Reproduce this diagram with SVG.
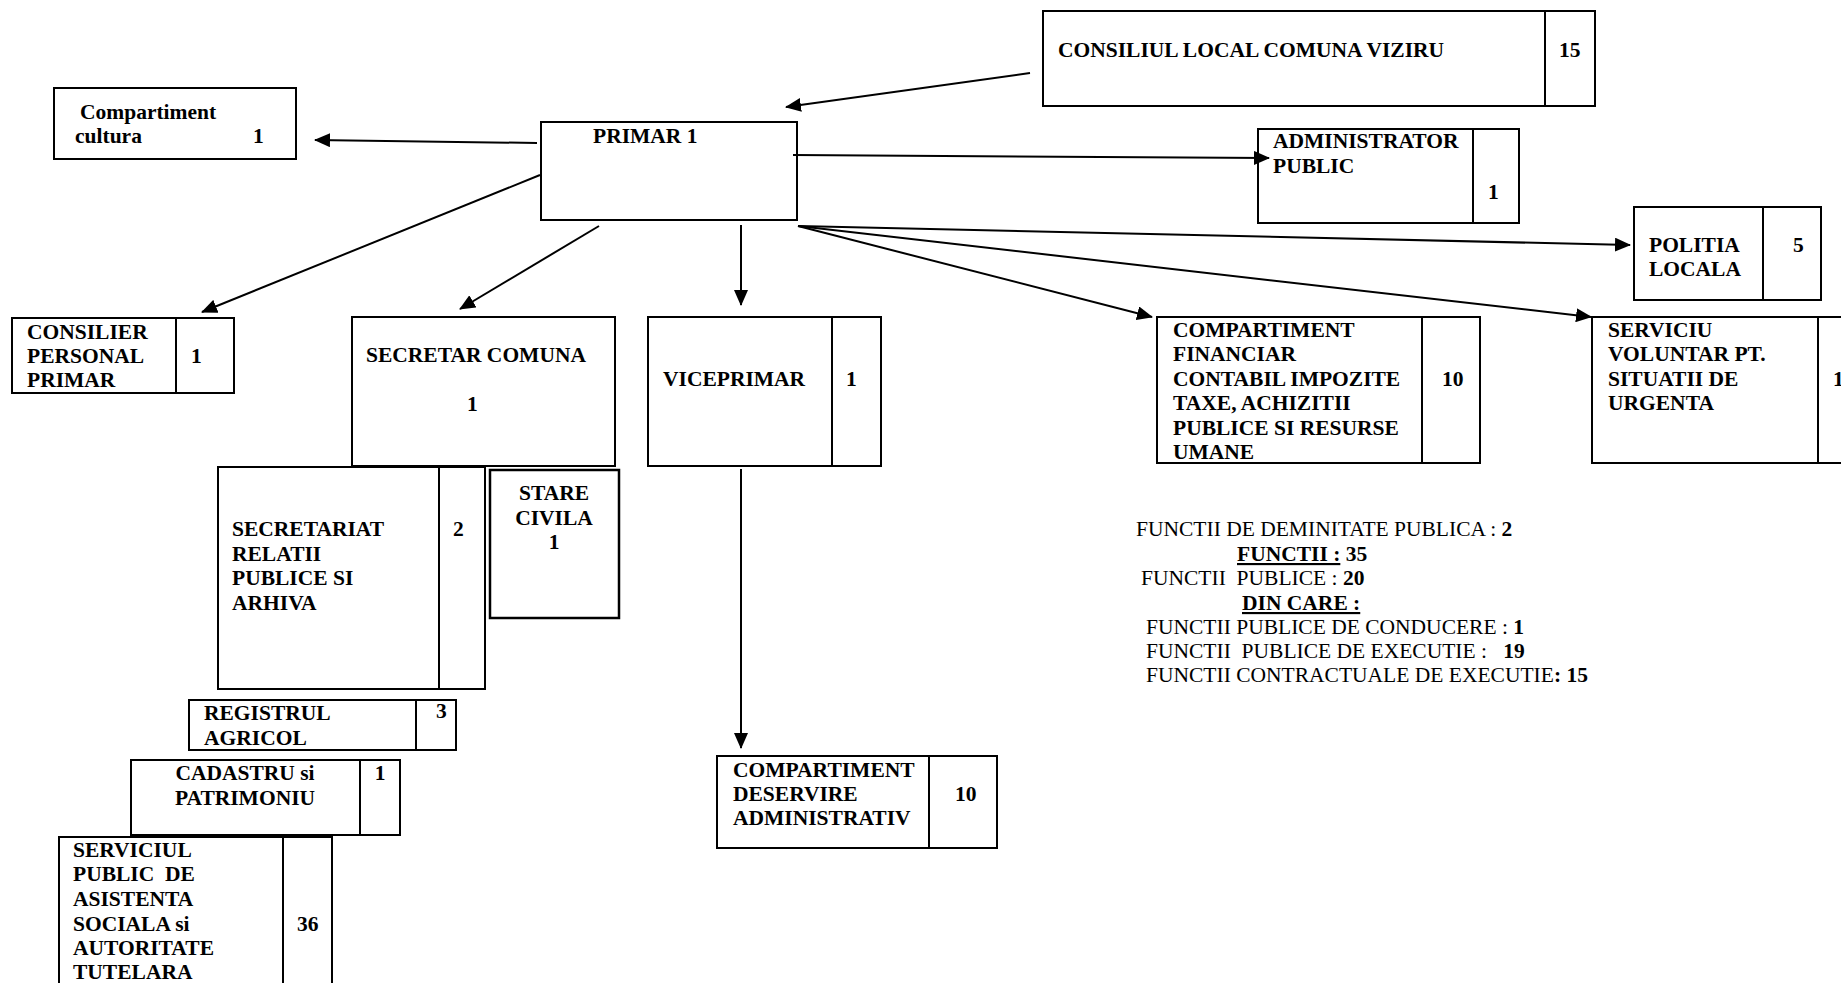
<svg xmlns="http://www.w3.org/2000/svg" width="1841" height="983" viewBox="0 0 1841 983">
<style>
rect{fill:#fff;stroke:#000;stroke-width:2}
line.d{stroke:#000;stroke-width:2}
text{font-family:"Liberation Serif","Times New Roman",serif;font-size:21.5px;font-weight:bold;fill:#000}
text.r{font-weight:normal}
.c{text-anchor:middle}
.b{font-weight:bold}
.u{text-decoration:underline}
.con line{stroke:#000;stroke-width:2;marker-end:url(#ah)}
</style>
<defs>
<marker id="ah" markerUnits="userSpaceOnUse" markerWidth="16" markerHeight="14" refX="15" refY="7" orient="auto">
<path d="M0,0 L16,7 L0,14 z" fill="#000"/>
</marker>
</defs>
<rect x="0" y="0" width="1841" height="983" style="stroke:none"/>

<g id="consiliul">
<rect x="1043" y="11" width="552" height="95"/>
<line class="d" x1="1545" y1="11" x2="1545" y2="106"/>
<text x="1058" y="57">CONSILIUL LOCAL COMUNA VIZIRU</text>
<text x="1559" y="57">15</text>
</g>

<g id="compartiment-cultura">
<rect x="54" y="88" width="242" height="71"/>
<text x="80" y="119">Compartiment</text>
<text x="75" y="143">cultura</text>
<text x="253" y="143">1</text>
</g>

<g id="primar">
<rect x="541" y="122" width="256" height="98"/>
<text x="593" y="143">PRIMAR 1</text>
</g>

<g id="administrator">
<rect x="1258" y="129" width="261" height="94"/>
<line class="d" x1="1473" y1="129" x2="1473" y2="223"/>
<text x="1273" y="148">ADMINISTRATOR</text>
<text x="1273" y="173">PUBLIC</text>
<text x="1488" y="199">1</text>
</g>

<g id="politia">
<rect x="1634" y="207" width="187" height="93"/>
<line class="d" x1="1763" y1="207" x2="1763" y2="300"/>
<text x="1649" y="252">POLITIA</text>
<text x="1649" y="276">LOCALA</text>
<text x="1793" y="252">5</text>
</g>

<g id="consilier">
<rect x="12" y="318" width="222" height="75"/>
<line class="d" x1="176" y1="318" x2="176" y2="393"/>
<text x="27" y="339">CONSILIER</text>
<text x="27" y="363">PERSONAL</text>
<text x="27" y="387">PRIMAR</text>
<text x="191" y="363">1</text>
</g>

<g id="secretar">
<rect x="352" y="317" width="263" height="149"/>
<text x="366" y="362">SECRETAR COMUNA</text>
<text x="467" y="411">1</text>
</g>

<g id="viceprimar">
<rect x="648" y="317" width="233" height="149"/>
<line class="d" x1="832" y1="317" x2="832" y2="466"/>
<text x="663" y="386">VICEPRIMAR</text>
<text x="846" y="386">1</text>
</g>

<g id="compartiment-financiar">
<rect x="1157" y="317" width="323" height="146"/>
<line class="d" x1="1422" y1="317" x2="1422" y2="463"/>
<text x="1173" y="337">COMPARTIMENT</text>
<text x="1173" y="361">FINANCIAR</text>
<text x="1173" y="386">CONTABIL IMPOZITE</text>
<text x="1173" y="410">TAXE, ACHIZITII</text>
<text x="1173" y="435">PUBLICE SI RESURSE</text>
<text x="1173" y="459">UMANE</text>
<text x="1442" y="386">10</text>
</g>

<g id="serviciu-voluntar">
<rect x="1592" y="317" width="270" height="146"/>
<line class="d" x1="1818" y1="317" x2="1818" y2="463"/>
<text x="1608" y="337">SERVICIU</text>
<text x="1608" y="361">VOLUNTAR PT.</text>
<text x="1608" y="386">SITUATII DE</text>
<text x="1608" y="410">URGENTA</text>
<text x="1833" y="386">1</text>
</g>

<g id="secretariat">
<rect x="218" y="467" width="267" height="222"/>
<line class="d" x1="439" y1="467" x2="439" y2="689"/>
<text x="232" y="536">SECRETARIAT</text>
<text x="232" y="561">RELATII</text>
<text x="232" y="585">PUBLICE SI</text>
<text x="232" y="610">ARHIVA</text>
<text x="453" y="536">2</text>
</g>

<g id="stare-civila">
<rect x="490" y="470" width="129" height="148" style="stroke-width:2.5"/>
<text class="c" x="554" y="500">STARE</text>
<text class="c" x="554" y="525">CIVILA</text>
<text class="c" x="554" y="549">1</text>
</g>

<g id="registrul">
<rect x="189" y="700" width="267" height="50"/>
<line class="d" x1="416" y1="700" x2="416" y2="750"/>
<text x="204" y="720">REGISTRUL</text>
<text x="204" y="745">AGRICOL</text>
<text x="436" y="718">3</text>
</g>

<g id="cadastru">
<rect x="131" y="760" width="269" height="75"/>
<line class="d" x1="360" y1="760" x2="360" y2="835"/>
<text class="c" x="245" y="780">CADASTRU si</text>
<text class="c" x="245" y="805">PATRIMONIU</text>
<text class="c" x="380" y="780">1</text>
</g>

<g id="serviciul-public">
<rect x="59" y="837" width="273" height="170"/>
<line class="d" x1="283" y1="837" x2="283" y2="1007"/>
<text x="73" y="857">SERVICIUL</text>
<text x="73" y="881" xml:space="preserve">PUBLIC  DE</text>
<text x="73" y="906">ASISTENTA</text>
<text x="73" y="931">SOCIALA si</text>
<text x="73" y="955">AUTORITATE</text>
<text x="73" y="979">TUTELARA</text>
<text x="297" y="931">36</text>
</g>

<g id="deservire">
<rect x="717" y="756" width="280" height="92"/>
<line class="d" x1="929" y1="756" x2="929" y2="848"/>
<text x="733" y="777">COMPARTIMENT</text>
<text x="733" y="801">DESERVIRE</text>
<text x="733" y="825">ADMINISTRATIV</text>
<text x="955" y="801">10</text>
</g>

<g id="legend">
<text class="r" x="1136" y="536">FUNCTII DE DEMINITATE PUBLICA : <tspan class="b">2</tspan></text>
<text x="1237" y="561" xml:space="preserve"><tspan class="u">FUNCTII :</tspan> 35</text>
<text class="r" x="1141" y="585" xml:space="preserve">FUNCTII  PUBLICE : <tspan class="b">20</tspan></text>
<text class="u" x="1242" y="610">DIN CARE :</text>
<text class="r" x="1146" y="634">FUNCTII PUBLICE DE CONDUCERE : <tspan class="b">1</tspan></text>
<text class="r" x="1146" y="658" xml:space="preserve">FUNCTII  PUBLICE DE EXECUTIE :   <tspan class="b">19</tspan></text>
<text class="r" x="1146" y="682">FUNCTII CONTRACTUALE DE EXECUTIE<tspan class="b">: 15</tspan></text>
</g>

<g id="connectors" class="con">
<line x1="1030" y1="73" x2="786" y2="107"/>
<line x1="537" y1="143" x2="315" y2="140"/>
<line x1="793" y1="155" x2="1269" y2="158"/>
<line x1="540" y1="175" x2="202" y2="312"/>
<line x1="599" y1="226" x2="460" y2="309"/>
<line x1="741" y1="225" x2="741" y2="305"/>
<line x1="798" y1="226" x2="1152" y2="317"/>
<line x1="798" y1="226" x2="1630" y2="245"/>
<line x1="798" y1="226" x2="1591" y2="317"/>
<line x1="741" y1="469" x2="741" y2="748"/>
</g>
</svg>
